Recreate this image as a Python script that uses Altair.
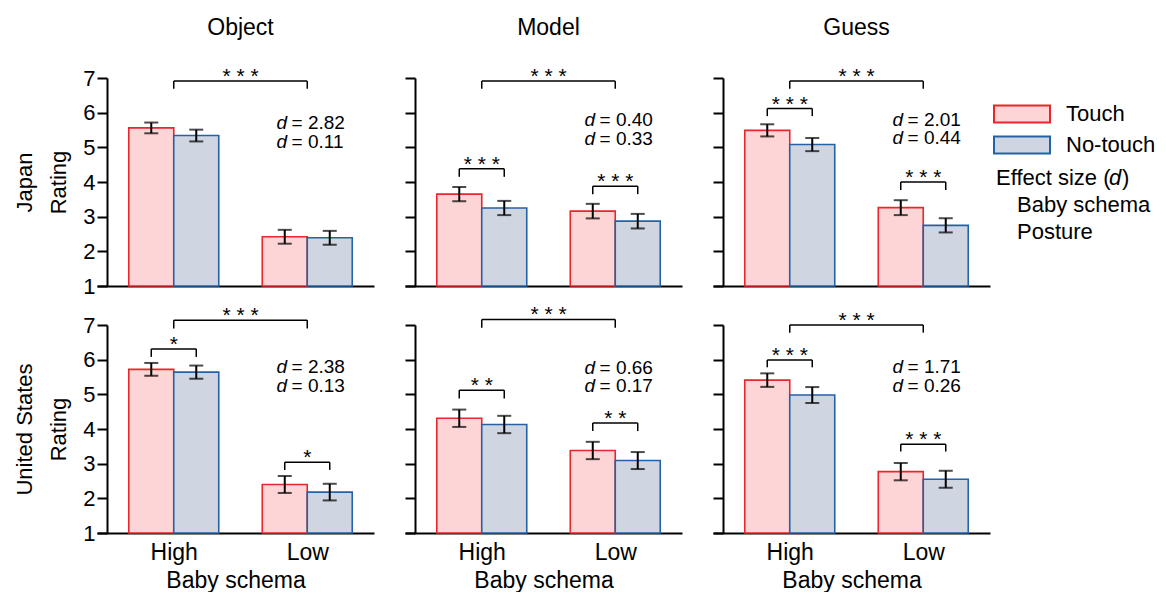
import altair as alt
import pandas as pd

countries = ["Japan", "United States"]
measures = ["Object", "Model", "Guess"]
levels = ["High", "Low"]
postures = ["Touch", "No-touch"]

# means / standard errors per measure (Object, Model, Guess) x level (High, Low)
jp_touch_mean = [[5.56, 2.42], [3.65, 3.16], [5.49, 3.26]]
jp_notouch_mean = [[5.34, 2.39], [3.25, 2.87], [5.08, 2.75]]
jp_touch_se = [[0.155, 0.20], [0.205, 0.21], [0.175, 0.215]]
jp_notouch_se = [[0.17, 0.20], [0.205, 0.21], [0.19, 0.205]]

us_touch_mean = [[5.72, 2.40], [4.31, 3.38], [5.41, 2.77]]
us_notouch_mean = [[5.64, 2.18], [4.13, 3.09], [4.98, 2.55]]
us_touch_se = [[0.185, 0.245], [0.25, 0.25], [0.195, 0.25]]
us_notouch_se = [[0.19, 0.24], [0.25, 0.245], [0.23, 0.245]]

# significance brackets: (between which, top value, leg end value, label)
jp_brackets = [
    [("between", 6.91, 6.69, "***")],
    [("between", 6.91, 6.69, "***"), ("High", 4.38, 4.15, "***"), ("Low", 3.88, 3.65, "***")],
    [("between", 6.91, 6.69, "***"), ("High", 6.12, 5.90, "***"), ("Low", 4.00, 3.77, "***")],
]
us_brackets = [
    [("between", 7.14, 6.90, "***"), ("High", 6.31, 6.08, "*"), ("Low", 3.04, 2.82, "*")],
    [("between", 7.16, 6.92, "***"), ("High", 5.12, 4.88, "**"), ("Low", 4.17, 3.94, "**")],
    [("between", 7.00, 6.78, "***"), ("High", 5.99, 5.78, "***"), ("Low", 3.56, 3.35, "***")],
]

# effect sizes (baby schema, posture) and the height of their text lines
jp_d = [(2.82, 0.11), (0.40, 0.33), (2.01, 0.44)]
us_d = [(2.38, 0.13), (0.66, 0.17), (1.71, 0.26)]
jp_d_y = [(5.69, 5.16), (5.80, 5.25), (5.80, 5.27)]
us_d_y = [(5.79, 5.24), (5.76, 5.24), (5.79, 5.24)]
d_x = 1.77

FONT = "Liberation Sans"
FILLS = ["#fdd5d7", "#cfd6e2"]
STROKES = ["#e8262c", "#2462a8"]
BAR_W = 0.337
group_pos = {"High": 1.0, "Low": 2.0}
post_off = {"Touch": -BAR_W / 2, "No-touch": BAR_W / 2}

xs = alt.Scale(domain=[0.425, 2.5], nice=False, zero=False)
ys = alt.Scale(domain=[1, 7], nice=False, zero=False)
fill_scale = alt.Scale(domain=postures, range=FILLS)
stroke_scale = alt.Scale(domain=postures, range=STROKES)
legend = alt.Legend(
    orient="none", legendX=910, legendY=21,
    symbolType="M-2,-0.6H2V0.6H-2Z", symbolSize=784, symbolStrokeWidth=2,
    labelFontSize=22, labelFont=FONT, labelOffset=29, rowPadding=3,
)

data = {
    "Japan": (jp_touch_mean, jp_notouch_mean, jp_touch_se, jp_notouch_se, jp_brackets, jp_d, jp_d_y),
    "United States": (us_touch_mean, us_notouch_mean, us_touch_se, us_notouch_se, us_brackets, us_d, us_d_y),
}

W, H = 277, 208


def panel(ci, mi):
    country = countries[ci]
    measure = measures[mi]
    tm, nm, tse, nse, brs, ds, dys = data[country]
    rows = []
    for li, lev in enumerate(levels):
        for post, mean, se in (("Touch", tm[mi][li], tse[mi][li]), ("No-touch", nm[mi][li], nse[mi][li])):
            c = group_pos[lev] + post_off[post]
            rows.append(dict(level=lev, posture=post, mean=mean, lo=mean - se, hi=mean + se,
                             xc=c, x1=c - BAR_W / 2, x2=c + BAR_W / 2))
    bdf = pd.DataFrame(rows)

    hrows, legs = [], []
    for which, top, bot, lab in brs[mi]:
        if which == "between":
            a, b = group_pos["High"], group_pos["Low"]
        else:
            a, b = group_pos[which] + post_off["Touch"], group_pos[which] + post_off["No-touch"]
        hrows.append(dict(a=a, b=b, m=(a + b) / 2, top=top, lab=" ".join(lab)))
        legs.append(dict(x=a, top=top, bot=bot))
        legs.append(dict(x=b, top=top, bot=bot))
    hdf = pd.DataFrame(hrows)
    ldf = pd.DataFrame(legs)

    ddf = pd.DataFrame([
        dict(x=d_x, y=dys[mi][0], t="= " + f"{ds[mi][0]:.2f}"),
        dict(x=d_x, y=dys[mi][1], t="= " + f"{ds[mi][1]:.2f}"),
    ])

    left = mi == 0
    bottom = ci == 1
    yaxis = alt.Axis(
        values=[1, 2, 3, 4, 5, 6, 7], tickCount=7, offset=-10, tickSize=10, tickWidth=2,
        domainWidth=2, labels=left, labelFontSize=22, labelPadding=2, labelOverlap=False,
        title=[country, "Rating"] if left else None,
        titleFontSize=22, titleFontWeight="normal", titleLineHeight=34, titlePadding=12,
    )
    xaxis = alt.Axis(
        values=[1, 2], ticks=False, domainWidth=2, labels=bottom,
        labelExpr="datum.value == 1 ? 'High' : 'Low'", labelFontSize=23, labelPadding=8,
        title="Baby schema" if bottom else None, titleFontSize=23, titleFontWeight="normal",
        titlePadding=5,
    )

    def X(f):
        return alt.X(f, scale=xs, axis=xaxis)

    def Y(f):
        return alt.Y(f, scale=ys, axis=yaxis)

    bars = alt.Chart(bdf).mark_rect(strokeWidth=1.6).encode(
        x=X("x1:Q"),
        x2="x2:Q",
        y=Y("mean:Q"),
        y2=alt.datum(1),
        fill=alt.Fill("posture:N", scale=fill_scale, legend=legend, title=None),
        stroke=alt.Stroke("posture:N", scale=stroke_scale, legend=legend, title=None),
    )
    err = alt.Chart(bdf).mark_rule(strokeWidth=2, color="black").encode(
        x=X("xc:Q"), y=Y("lo:Q"), y2="hi:Q")
    caps = alt.Chart(bdf).transform_fold(["lo", "hi"], as_=["k", "v"]).mark_tick(
        orient="horizontal", size=14, thickness=2, color="black").encode(x=X("xc:Q"), y=Y("v:Q"))
    hline = alt.Chart(hdf).mark_rule(strokeWidth=1.5, color="black").encode(
        x=X("a:Q"), x2="b:Q", y=Y("top:Q"))
    legl = alt.Chart(ldf).mark_rule(strokeWidth=1.5, color="black").encode(
        x=X("x:Q"), y=Y("top:Q"), y2="bot:Q")
    stars = alt.Chart(hdf).mark_text(fontSize=21, baseline="alphabetic", dy=2, font=FONT).encode(
        x=X("m:Q"), y=Y("top:Q"), text="lab:N")
    dital = alt.Chart(ddf).mark_text(fontSize=19, fontStyle="italic", align="left",
                                     baseline="middle", font=FONT).encode(
        x=X("x:Q"), y=Y("y:Q"), text=alt.value("d"))
    dval = alt.Chart(ddf).mark_text(fontSize=19, align="left", baseline="middle", dx=15,
                                    font=FONT).encode(x=X("x:Q"), y=Y("y:Q"), text="t:N")
    layers = [bars, err, caps, hline, legl, stars, dital, dval]

    if ci == 0 and mi == 2:
        notes = [
            ("Effect size (", 283, 100, "normal"),
            ("d", 396, 100, "italic"),
            (")", 409, 100, "normal"),
            ("Baby schema", 304, 127, "normal"),
            ("Posture", 304, 154, "normal"),
        ]
        for t, px, py, s in notes:
            layers.append(
                alt.Chart(bdf.head(1)).mark_text(
                    fontSize=22, align="left", baseline="middle", font=FONT, fontStyle=s
                ).encode(x=alt.value(px), y=alt.value(py), text=alt.value(t))
            )

    ch = alt.layer(*layers).properties(width=W, height=H)
    if ci == 0:
        ch = ch.properties(title=alt.TitleParams(
            measure, fontSize=23, fontWeight="normal", font=FONT, anchor="middle",
            frame="group", baseline="alphabetic", offset=8, dx=5))
    return ch


panels = [panel(ci, mi) for ci in range(2) for mi in range(3)]
chart = alt.concat(*panels, columns=3, spacing={"row": 39, "column": 31}).properties(
    bounds="flush",
    padding={"left": 5, "top": 9, "right": 0, "bottom": 0},
).configure(font=FONT).configure_view(stroke=None).configure_axis(
    grid=False, domainColor="black", tickColor="black", labelColor="black",
    titleColor="black", labelFont=FONT, titleFont=FONT
)

chart.save("out.html", embed_options={"renderer": "svg", "actions": False})
